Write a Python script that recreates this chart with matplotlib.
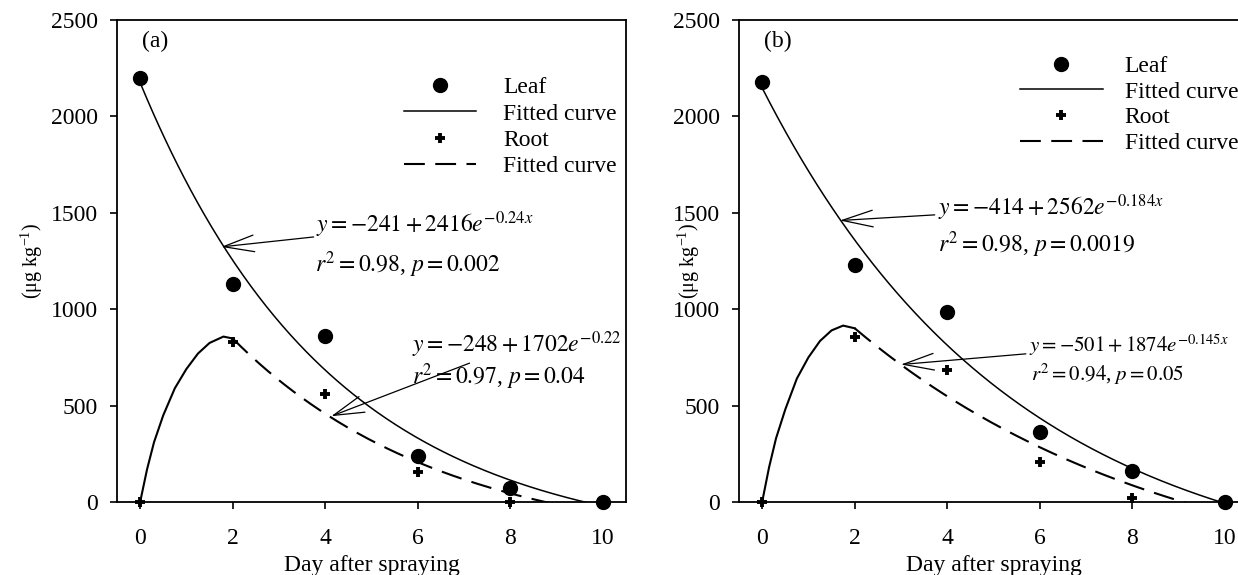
import numpy as np
from matplotlib import pyplot as plt
from matplotlib.lines import Line2D

plt.rcParams['font.family'] = ['Liberation Serif', 'DejaVu Serif']
plt.rcParams['mathtext.fontset'] = 'stix'

days = [0, 2, 4, 6, 8, 10]

# panel (a)
leaf_a = [2200, 1130, 860, 240, 75, 0]
root_days_a = [0, 2, 4, 6, 8]
root_a = [0, 830, 560, 155, 0]
leaf_fit_a = (-241, 2416, 0.24)
root_fit_a = (-248, 1702, 0.22)
# rising part of root curve
rise_x_a = [0, 0.15, 0.3, 0.5, 0.75, 1.0, 1.25, 1.5, 1.8, 2.0]
rise_y_a = [0, 170, 310, 450, 590, 690, 770, 825, 858, 848]

# panel (b)
leaf_b = [2180, 1230, 985, 365, 160, 0]
root_days_b = [0, 2, 4, 6, 8]
root_b = [0, 855, 685, 205, 20]
leaf_fit_b = (-414, 2562, 0.184)
root_fit_b = (-501, 1874, 0.145)
rise_x_b = [0, 0.15, 0.3, 0.5, 0.75, 1.0, 1.25, 1.5, 1.75, 2.0]
rise_y_b = [0, 180, 330, 480, 640, 750, 835, 890, 915, 901]

W, H = 1238, 575
fig = plt.figure(figsize=(W / 100, H / 100), dpi=100)
FS = 17


def fit(p, x):
    return p[0] + p[1] * np.exp(-p[2] * x)


def panel(left, tag, leaf, root_days, root, lf, rf, rx, ry, yl_x):
    ax = fig.add_axes([left / W, (H - 502) / H, 509 / W, 482 / H])
    xs = np.linspace(0, 10.2, 300)
    ax.plot(xs, fit(lf, xs), color='black', lw=1.1)
    ax.plot(rx, ry, color='black', lw=1.5)
    xr = np.linspace(2, 10, 300)
    ax.plot(xr, fit(rf, xr), color='black', lw=1.5, dashes=(10, 5))
    ax.plot(days, leaf, 'o', color='black', ms=10, clip_on=False, zorder=5)
    ax.plot(root_days, root, '+', color='black', ms=7.5, mew=2.8, clip_on=False, zorder=5)

    ax.set_xlim(-0.5, 10.5)
    ax.set_ylim(0, 2500)
    ax.set_xticks(range(0, 11, 2))
    ax.set_yticks(range(0, 2501, 500))
    ax.tick_params(labelsize=FS, direction='out', length=5, width=1.2)
    ax.tick_params(axis='x', pad=14)
    ax.tick_params(axis='y', pad=8.5)
    for s in ax.spines.values():
        s.set_linewidth(1.3)
    ax.set_xlabel('Day after spraying', fontsize=FS)
    ax.set_ylabel('(\u03bcg kg$^{\\mathregular{-1}}$)', fontsize=14.5)
    ax.xaxis.set_label_coords(0.5, -0.11)
    ax.yaxis.set_label_coords(yl_x, 0.5)
    ax.text(0.05, 0.955, tag, transform=ax.transAxes, fontsize=FS,
            va='center', ha='left')

    handles = [
        Line2D([], [], ls='none', marker='o', color='black', ms=10),
        Line2D([], [], color='black', lw=1.1),
        Line2D([], [], ls='none', marker='+', color='black', ms=7.5, mew=2.8),
        Line2D([], [], color='black', lw=1.5, dashes=(10, 5)),
    ]
    labels = ['Leaf', 'Fitted curve', 'Root', 'Fitted curve']
    return ax, handles, labels


ax_a, h, l = panel(117, '(a)', leaf_a, root_days_a, root_a, leaf_fit_a,
                   root_fit_a, rise_x_a, rise_y_a, -0.141)
ax_a.legend(h, l, loc='upper left', bbox_to_anchor=(0.564, 0.882),
            frameon=False, fontsize=FS, handlelength=3.05, handletextpad=1.15,
            labelspacing=0.2, borderpad=0, borderaxespad=0)

arrow = dict(arrowstyle='->, head_length=1.1, head_width=0.3', color='black',
             lw=0.9, mutation_scale=20, shrinkA=0, shrinkB=0)

ax_a.annotate('$y=-241+2416e^{-0.24x}$', xy=(1.75, 1323), xytext=(3.81, 1437),
              fontsize=FS, va='center', ha='left', arrowprops=arrow)
ax_a.text(3.77, 1229, '$r^2=0.98$, $p=0.002$', fontsize=FS, va='center')
ax_a.annotate('$y=-248+1702e^{-0.22}$', xy=(4.13, 445), xytext=(5.87, 814),
              fontsize=FS, va='center', ha='left', arrowprops=arrow)
ax_a.text(5.87, 648, '$r^2=0.97$, $p=0.04$', fontsize=FS, va='center')

ax_b, h, l = panel(739, '(b)', leaf_b, root_days_b, root_b, leaf_fit_b,
                   root_fit_b, rise_x_b, rise_y_b, -0.073)
ax_b.legend(h, l, loc='upper left', bbox_to_anchor=(0.552, 0.926),
            frameon=False, fontsize=FS, handlelength=3.5, handletextpad=0.93,
            labelspacing=0.17, borderpad=0, borderaxespad=0)

ax_b.annotate('$y=-414+2562e^{-0.184x}$', xy=(1.68, 1460), xytext=(3.79, 1525),
              fontsize=FS, va='center', ha='left', arrowprops=arrow)
ax_b.text(3.79, 1333, '$r^2=0.98$, $p=0.0019$', fontsize=FS, va='center')
ax_b.annotate('$y=-501+1874e^{-0.145x}$', xy=(3.0, 713), xytext=(5.76, 814),
              fontsize=15, va='center', ha='left', arrowprops=arrow)
ax_b.text(5.8, 660, '$r^2=0.94$, $p=0.05$', fontsize=15, va='center')

fig.savefig('out.png', dpi=100)
